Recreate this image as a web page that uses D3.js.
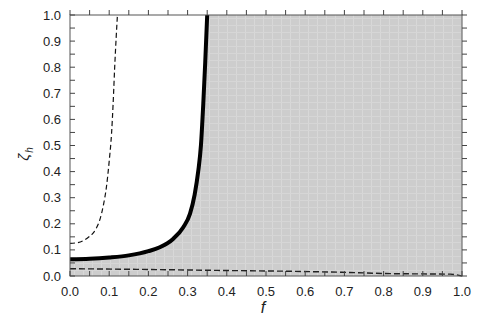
<!DOCTYPE html>
<html>
<head>
<meta charset="utf-8">
<script src="https://cdn.jsdelivr.net/npm/d3@7"></script>
<style>
  body { margin: 0; background: #fff; }
  text { font-family: "Liberation Sans", Arial, sans-serif; }
</style>
</head>
<body>
<svg width="490" height="327"></svg>
<script>
// data
var boldF    = [0.0, 0.05, 0.1, 0.15, 0.2, 0.229, 0.263, 0.289, 0.306, 0.318, 0.327, 0.334, 0.340, 0.345, 0.35];
var boldZeta = [0.064, 0.066, 0.071, 0.079, 0.095, 0.110, 0.142, 0.187, 0.238, 0.312, 0.400, 0.50, 0.66, 0.82, 1.0];

var upperF    = [0.0, 0.02, 0.037, 0.05, 0.059, 0.068, 0.076, 0.085, 0.093, 0.1, 0.106, 0.11, 0.114, 0.118, 0.121];
var upperZeta = [0.125, 0.128, 0.138, 0.152, 0.164, 0.186, 0.215, 0.27, 0.342, 0.44, 0.546, 0.66, 0.80, 0.92, 1.0];

var lowerF    = [0.0, 0.2, 0.4, 0.52, 0.7, 0.82, 0.9, 0.97, 1.0];
var lowerZeta = [0.028, 0.025, 0.021, 0.019, 0.014, 0.009, 0.008, 0.007, 0.0];

var xTicks = d3.range(0, 1.0001, 0.1);
var yTicks = d3.range(0, 1.0001, 0.1);
var minorTicks = d3.range(0.05, 1, 0.1);

var svg = d3.select("svg"),
  margin = { top: 15, right: 28, bottom: 51, left: 70 },
  width = 462 - margin.left,
  height = 276 - margin.top,
  g = svg.append("g").attr("transform", "translate(" + margin.left + "," + margin.top + ")");

var x = d3.scaleLinear().domain([0, 1]).range([0, width]);
var y = d3.scaleLinear().domain([0, 1]).range([height, 0]);

// gray texture
var defs = svg.append("defs");
var pat = defs.append("pattern")
  .attr("id", "tex")
  .attr("patternUnits", "userSpaceOnUse")
  .attr("width", 9).attr("height", 7);
pat.append("rect").attr("width", 9).attr("height", 7).attr("fill", "#cdcdcd");
pat.append("rect").attr("x", 4).attr("width", 1).attr("height", 7).attr("fill", "#d8d8d8");
pat.append("rect").attr("y", 3).attr("width", 9).attr("height", 1).attr("fill", "#d6d6d6");

function pairs(a, b) { return a.map(function(d, i) { return [d, b[i]]; }); }

var curved = d3.line()
  .x(function(d) { return x(d[0]); })
  .y(function(d) { return y(d[1]); })
  .curve(d3.curveMonotoneX);

// region below the bold curve (and to its right)
var edge = curved(pairs(boldF, boldZeta));
g.append("path")
  .attr("d", edge + "L" + x(1) + "," + y(1) + "L" + x(1) + "," + y(0) + "L" + x(0) + "," + y(0) + "Z")
  .attr("fill", "url(#tex)");

g.append("path")
  .attr("d", curved(pairs(upperF, upperZeta)))
  .attr("fill", "none")
  .attr("stroke", "#111")
  .attr("stroke-width", 1.2)
  .attr("stroke-dasharray", "5,3");

g.append("path")
  .attr("d", curved(pairs(lowerF, lowerZeta)))
  .attr("fill", "none")
  .attr("stroke", "#222")
  .attr("stroke-width", 1.4)
  .attr("stroke-dasharray", "6,3");

g.append("path")
  .attr("d", edge)
  .attr("fill", "none")
  .attr("stroke", "#000")
  .attr("stroke-width", 4);

// frame
g.append("rect")
  .attr("width", width).attr("height", height)
  .attr("fill", "none")
  .attr("stroke", "#555")
  .attr("stroke-width", 1);

var tickCol = "#444";

// bottom ticks (pointing up) and top ticks (pointing up, outside)
g.selectAll(".xt").data(xTicks.concat(minorTicks)).enter().append("line")
  .attr("x1", function(d) { return x(d); }).attr("x2", function(d) { return x(d); })
  .attr("y1", height).attr("y2", height - 5)
  .attr("stroke", tickCol);
g.selectAll(".xt2").data(xTicks.concat(minorTicks)).enter().append("line")
  .attr("x1", function(d) { return x(d); }).attr("x2", function(d) { return x(d); })
  .attr("y1", 0).attr("y2", -5)
  .attr("stroke", tickCol);
// left ticks (inside) and right ticks (outside)
g.selectAll(".yt").data(yTicks.concat(minorTicks)).enter().append("line")
  .attr("y1", function(d) { return y(d); }).attr("y2", function(d) { return y(d); })
  .attr("x1", 0).attr("x2", 5)
  .attr("stroke", tickCol);
g.selectAll(".yt2").data(yTicks.concat(minorTicks)).enter().append("line")
  .attr("y1", function(d) { return y(d); }).attr("y2", function(d) { return y(d); })
  .attr("x1", width).attr("x2", width + 5)
  .attr("stroke", tickCol);

// tick labels
g.selectAll(".xl").data(xTicks).enter().append("text")
  .attr("x", function(d) { return x(d); })
  .attr("y", height + 20)
  .attr("text-anchor", "middle")
  .attr("font-size", 13)
  .attr("fill", "#222")
  .text(d3.format(".1f"));

g.selectAll(".yl").data(yTicks).enter().append("text")
  .attr("x", -9)
  .attr("y", function(d) { return y(d); })
  .attr("dy", "0.35em")
  .attr("text-anchor", "end")
  .attr("font-size", 13)
  .attr("fill", "#222")
  .text(d3.format(".1f"));

// axis titles
svg.append("text")
  .attr("x", 263).attr("y", 313)
  .attr("text-anchor", "middle")
  .attr("font-family", "Liberation Serif, serif")
  .attr("font-style", "italic")
  .attr("font-size", 16)
  .attr("fill", "#222")
  .text("f");

var yl = svg.append("text")
  .attr("transform", "translate(29,154) rotate(-90)")
  .attr("text-anchor", "middle")
  .attr("font-family", "Liberation Serif, serif")
  .attr("font-style", "italic")
  .attr("font-size", 15)
  .attr("fill", "#222");
yl.append("tspan").text("ζ");
yl.append("tspan").attr("dy", 4).attr("dx", 1).attr("font-size", 10).text("h");
</script>
</body>
</html>
